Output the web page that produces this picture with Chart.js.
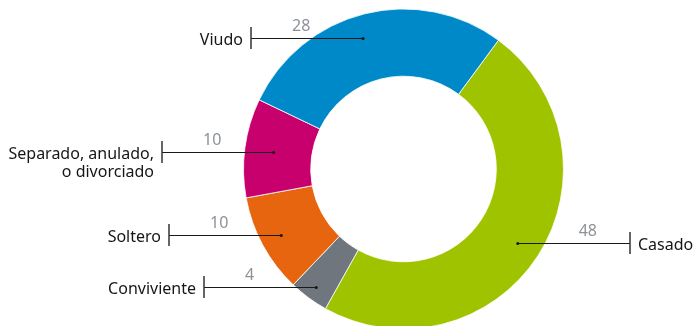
<!DOCTYPE html>
<html>
<head>
<meta charset="utf-8">
<script src="https://cdn.jsdelivr.net/npm/chart.js@4/dist/chart.umd.min.js"></script>
<style>
  html, body { margin: 0; padding: 0; background: #fff; }
  #wrap { position: relative; width: 695px; height: 326px; }
</style>
</head>
<body>
<div id="wrap"><canvas id="chart-estado"></canvas></div>
<script>
(function () {
  'use strict';

  // estado civil, porcentaje
  const categories = ['Casado', 'Conviviente', 'Soltero', 'Separado, anulado,\no divorciado', 'Viudo'];
  const values     = [48, 4, 10, 10, 28];
  const colors     = ['#a0c300', '#6f767d', '#e8650f', '#c8006e', '#0089c9'];

  // leader dot placement: distance from centre (px) and angular nudge (deg)
  const leadR     = [136, 147, 139, 131, 137];
  const leadNudge = [0, 0, 0, 0, -3.2];

  const FONT = "'Noto Sans', 'Open Sans', sans-serif";

  // ── leader lines with label + value ─────────────────────────────
  const leaders = {
    id: 'leaders',
    afterDraw(chart) {
      const ctx = chart.ctx;
      const arcs = chart.getDatasetMeta(0).data;
      ctx.save();
      arcs.forEach((arc, i) => {
        const p = arc.getProps(['x', 'y', 'startAngle', 'endAngle'], true);
        const mid = (p.startAngle + p.endAngle) / 2 + leadNudge[i] * Math.PI / 180;
        const dx = p.x + Math.cos(mid) * leadR[i];
        const dy = Math.round(p.y + Math.sin(mid) * leadR[i]);
        const right = Math.cos(mid) > 0;
        const tickX = Math.round(right ? dx + 112 : dx - 112);

        // horizontal rule + dot
        ctx.strokeStyle = '#1a1a1a';
        ctx.lineWidth = 1;
        ctx.beginPath();
        ctx.moveTo(dx, dy + 0.5);
        ctx.lineTo(tickX, dy + 0.5);
        ctx.stroke();
        ctx.fillStyle = '#1a1a1a';
        ctx.beginPath();
        ctx.arc(dx, dy + 0.5, 1.6, 0, Math.PI * 2);
        ctx.fill();

        // end tick
        ctx.strokeStyle = '#333';
        ctx.lineWidth = 1.5;
        ctx.beginPath();
        ctx.moveTo(tickX, dy - 11);
        ctx.lineTo(tickX, dy + 11);
        ctx.stroke();

        // value above the rule
        ctx.fillStyle = '#8c9298';
        ctx.font = '16px ' + FONT;
        ctx.textBaseline = 'alphabetic';
        ctx.textAlign = right ? 'right' : 'left';
        ctx.fillText(String(values[i]), right ? tickX - 33 : tickX + 41, dy - 7);

        // category label beside the tick
        ctx.fillStyle = '#161616';
        ctx.font = '16px ' + FONT;
        ctx.textBaseline = 'middle';
        ctx.textAlign = right ? 'left' : 'right';
        categories[i].split('\n').forEach((line, k) => {
          ctx.fillText(line, right ? tickX + 8 : tickX - 8, dy + 2 + k * 18);
        });
      });
      ctx.restore();
    }
  };

  new Chart(document.getElementById('chart-estado'), {
    type: 'doughnut',
    data: {
      labels: categories,
      datasets: [{
        data: values,
        backgroundColor: colors,
        borderColor: '#ffffff',
        borderWidth: 0.8,
      }]
    },
    options: {
      responsive: true,
      maintainAspectRatio: false,
      animation: false,
      rotation: 36.4,
      radius: 160,
      cutout: '58%',
      layout: { padding: { left: 112, top: 12, right: 0, bottom: 0 } },
      plugins: { legend: { display: false }, tooltip: { enabled: false } },
    },
    plugins: [leaders]
  });
}());
</script>
</body>
</html>
